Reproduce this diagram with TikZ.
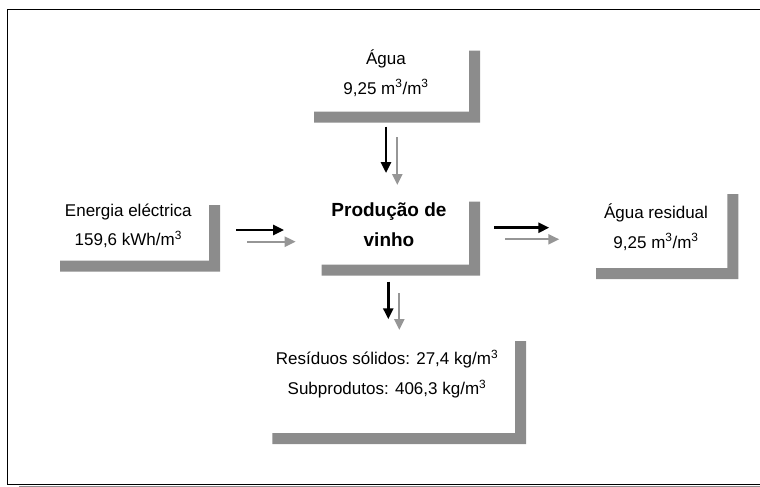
\documentclass[tikz,border=0pt]{standalone}
\usepackage{fontspec}
\setmainfont{Liberation Sans}
\usetikzlibrary{arrows.meta}
\definecolor{bargray}{RGB}{140,140,140}
\definecolor{arrowgray}{RGB}{150,150,150}
% gray L under and right of a box: left, top, right, bottom
\newcommand{\shadowL}[4]{\fill[bargray] (#1,#4) -- (#3,#4) -- (#3,#2) -- (#3-11,#2) -- (#3-11,#4-11) -- (#1,#4-11) -- cycle;}
\begin{document}
\begin{tikzpicture}[x=1pt,y=-1pt,
  txt/.style={align=center,inner sep=0pt,font=\fontsize{17}{29.5}\selectfont},
  blackarrow/.style={line width=2.6pt,-{Triangle[length=11pt,width=10pt]}},
  grayarrow/.style={arrowgray,line width=2.2pt,-{Triangle[length=11pt,width=10pt]}}]
\useasboundingbox (0,0) rectangle (760,487);
\draw[line width=1.2pt] (760,9.5) -- (7.5,9.5) -- (7.5,484.5) -- (760,484.5);
\draw[bargray,line width=0.8pt] (19,486.2) -- (760,486.2);
% boxes
\shadowL{314}{50.7}{480}{122.7}
\shadowL{60}{205}{220}{271.7}
\shadowL{321.7}{201.7}{480}{275.7}
\shadowL{596}{194}{738.3}{279}
\shadowL{272.3}{341}{526}{444}
% texts
\node[txt] (water) at (386,73) {Água\\9,25 m\textsuperscript{3}/m\textsuperscript{3}};
\node[txt] (energy) at (128.3,226) {Energia eléctrica\\159,6 kWh/m\textsuperscript{3}};
\node[txt,font=\fontsize{19}{29.5}\selectfont\bfseries] (wine) at (389,224.5) {Produção de\\vinho};
\node[txt] (wastewater) at (656,227) {Água residual\\9,25 m\textsuperscript{3}/m\textsuperscript{3}};
\node[txt] (solids) at (387,374) {Resíduos sólidos: 27,4 kg/m\textsuperscript{3}\\Subprodutos: 406,3 kg/m\textsuperscript{3}};
% arrow ends
\coordinate (inWk) at (386,126.7);   \coordinate (inWkE) at (386,173);
\coordinate (inWg) at (397.3,137);   \coordinate (inWgE) at (397.3,185);
\coordinate (inEk) at (236,230);     \coordinate (inEkE) at (284,230);
\coordinate (inEg) at (247.3,241.7); \coordinate (inEgE) at (295.7,241.7);
\coordinate (outRk) at (494,227.7);  \coordinate (outRkE) at (549.3,227.7);
\coordinate (outRg) at (505,239.3);  \coordinate (outRgE) at (559.3,239.3);
\coordinate (outSk) at (388.3,281.7); \coordinate (outSkE) at (388.3,319.3);
\coordinate (outSg) at (399.3,293.3); \coordinate (outSgE) at (399.3,330);
\draw[blackarrow] (inWk) -- (inWkE);
\draw[grayarrow] (inWg) -- (inWgE);
\draw[blackarrow] (inEk) -- (inEkE);
\draw[grayarrow] (inEg) -- (inEgE);
\draw[blackarrow] (outRk) -- (outRkE);
\draw[grayarrow] (outRg) -- (outRgE);
\draw[blackarrow] (outSk) -- (outSkE);
\draw[grayarrow] (outSg) -- (outSgE);
\end{tikzpicture}
\end{document}
